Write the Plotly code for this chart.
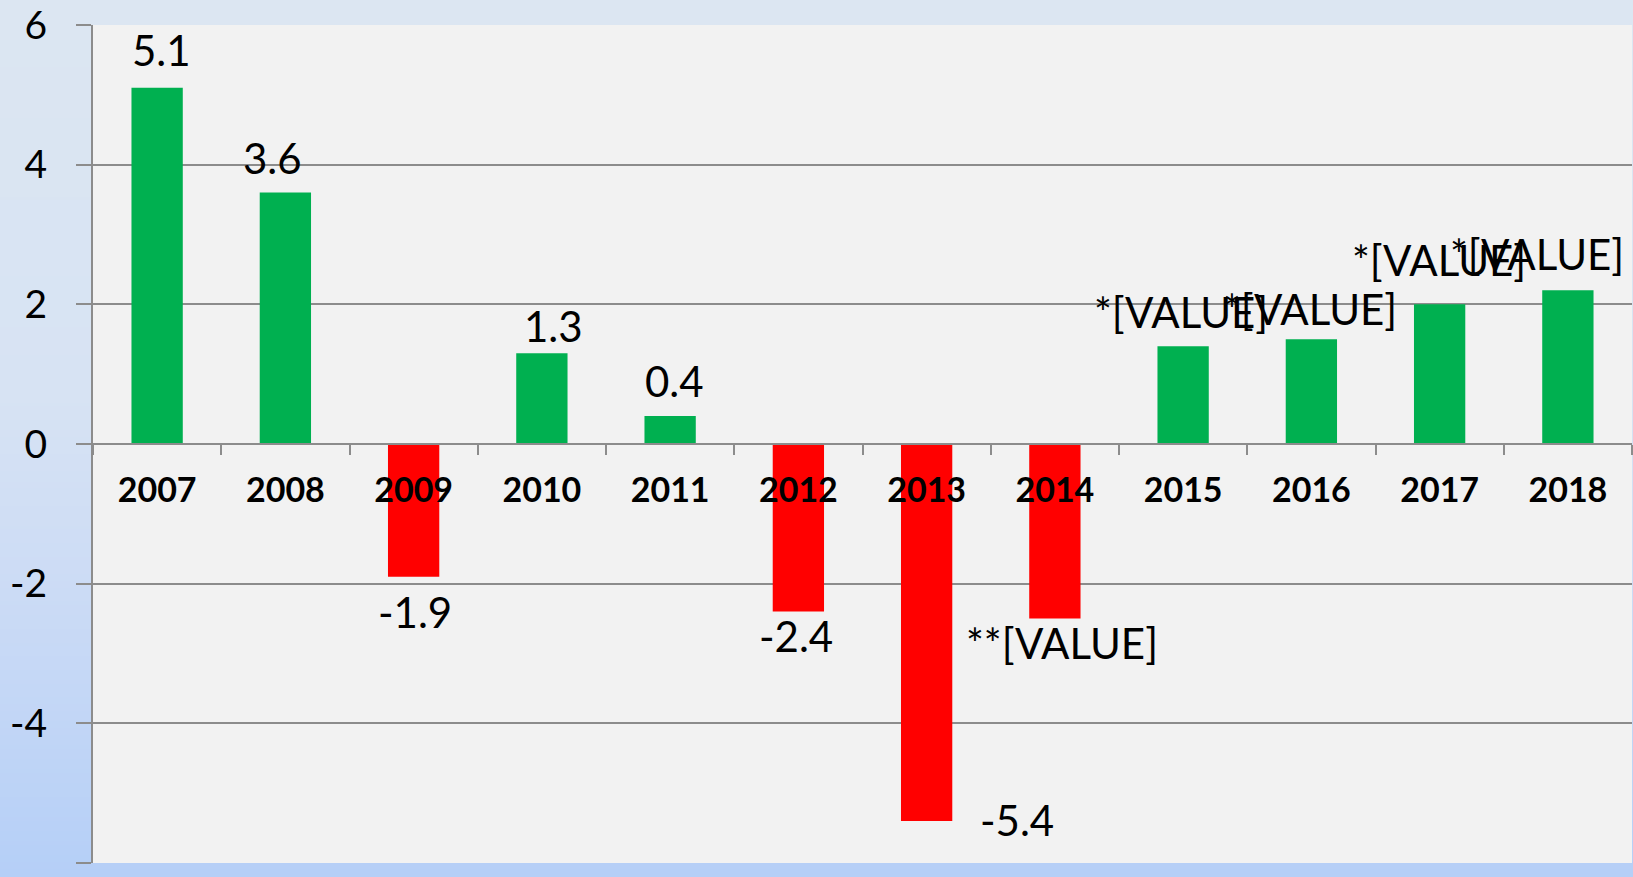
import base64
import struct
import zlib

import plotly.graph_objects as go

# ---------------- data ----------------
years = ["2007", "2008", "2009", "2010", "2011", "2012",
         "2013", "2014", "2015", "2016", "2017", "2018"]
values = [5.1, 3.6, -1.9, 1.3, 0.4, -2.4, -5.4, -2.5, 1.4, 1.5, 2.0, 2.2]
label_texts = ["5.1", "3.6", "-1.9", "1.3", "0.4", "-2.4", "-5.4",
               "**[VALUE]", "*[VALUE]", "*[VALUE]", "*[VALUE]", "*[VALUE]"]
y_ticks = [6, 4, 2, 0, -2, -4, -6]

# label offsets (pixels) from the bar end, as placed in the original chart
label_dx = [4, -13, 1, 12, 4, -2, 90, 7, -2, -1, -1, -31]
label_dy = [38, 35, -35, 27, 35, -24, 1, -24, 34, 30, 44, 36]

GREEN = "#00b050"
RED = "#ff0000"
GRID = "#8c8c8c"
FONT = "Lato"

W, H = 1633, 877
ML, MR, MT, MB = 93, 1, 25, 14


# ---------------- background gradient (png) ----------------
def gradient_png(stops, n=256):
    rows = []
    for i in range(n):
        t = i / (n - 1)
        for k in range(len(stops) - 1):
            t0, c0 = stops[k]
            t1, c1 = stops[k + 1]
            if t0 <= t <= t1:
                f = (t - t0) / (t1 - t0) if t1 > t0 else 0
                c = [round(c0[j] + (c1[j] - c0[j]) * f) for j in range(3)]
                break
        rows.append(b"\x00" + bytes(c))
    raw = b"".join(rows)

    def chunk(tag, data):
        return (struct.pack(">I", len(data)) + tag + data
                + struct.pack(">I", zlib.crc32(tag + data) & 0xffffffff))

    png = b"\x89PNG\r\n\x1a\n"
    png += chunk(b"IHDR", struct.pack(">IIBBBBB", 1, n, 8, 2, 0, 0, 0))
    png += chunk(b"IDAT", zlib.compress(raw))
    png += chunk(b"IEND", b"")
    return "data:image/png;base64," + base64.b64encode(png).decode()


bg_stops = [(0.0, (220, 230, 242)), (0.45, (215, 227, 243)),
            (0.65, (205, 220, 245)), (0.82, (194, 214, 246)),
            (1.0, (181, 207, 247))]

pw = W - ML - MR
ph = H - MT - MB

colors = [GREEN if v >= 0 else RED for v in values]

fig = go.Figure()
fig.add_trace(go.Bar(
    x=years, y=values, marker=dict(color=colors, line=dict(width=0)),
    width=0.4, hoverinfo="x+y", showlegend=False,
))

annotations = []
for i, (v, t, dx, dy) in enumerate(zip(values, label_texts, label_dx, label_dy)):
    annotations.append(dict(
        x=i, y=v, xref="x", yref="y", text=t, showarrow=False,
        xshift=dx, yshift=dy, xanchor="center", yanchor="middle",
        font=dict(family=FONT, size=42, color="black"),
    ))

fig.update_layout(
    width=W, height=H,
    margin=dict(l=ML, r=MR, t=MT, b=MB, pad=0),
    paper_bgcolor="#dce6f2",
    plot_bgcolor="#f2f2f2",
    showlegend=False,
    annotations=annotations,
    images=[dict(
        source=gradient_png(bg_stops), xref="paper", yref="paper",
        x=-ML / pw, y=1 + MT / ph, sizex=W / pw, sizey=H / ph,
        xanchor="left", yanchor="top", sizing="stretch", layer="below",
    )],
    shapes=[dict(
        type="rect", xref="paper", yref="paper", x0=0, x1=1, y0=0, y1=1,
        fillcolor="#f2f2f2", line=dict(width=0), layer="below",
    )],
    xaxis=dict(
        type="category", anchor="free", position=0.5,
        range=[-0.5, len(years) - 0.5],
        showline=True, linecolor=GRID, linewidth=2,
        ticks="outside", tickson="boundaries", ticklen=10, tickwidth=2,
        tickcolor=GRID, showgrid=False, zeroline=False, tickangle=0,
        tickfont=dict(family=FONT, size=34, color="black", weight="bold"),
        ticklabelstandoff=16,
    ),
    yaxis=dict(
        range=[-6, 6], tickvals=y_ticks, ticktext=[str(v) for v in y_ticks],
        showgrid=True, gridcolor=GRID, gridwidth=2,
        showline=True, linecolor=GRID, linewidth=2,
        ticks="outside", ticklen=15, tickwidth=2, tickcolor=GRID,
        zeroline=False,
        tickfont=dict(family=FONT, size=39, color="black"),
        ticklabelstandoff=21,
    ),
)

fig.write_html("out.html",
               config={"displayModeBar": False},
               post_script="document.body.style.margin='0';"
                           "document.body.style.overflow='hidden';")
